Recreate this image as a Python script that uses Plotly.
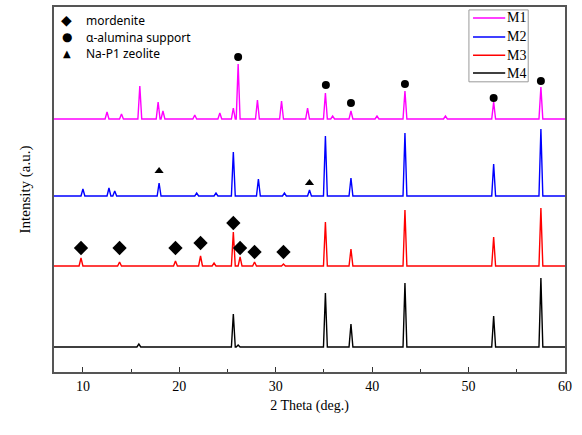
import plotly.graph_objects as go

# ---- data (2θ in degrees, intensity in arbitrary stacked units) ----
series_names = ["M1", "M2", "M3", "M4"]
series_colors = ["#FF00FF", "#0000FF", "#FF0000", "#000000"]
baselines = [253, 176, 106, 25]

m1_pos = [12.5, 14.0, 15.9, 17.8, 18.3, 21.6, 24.2, 25.6, 26.1, 28.1, 30.6, 33.3, 35.15, 35.9, 37.8, 40.5, 43.4, 47.6, 52.6, 57.5]
m1_hgt = [7, 5, 33, 17, 8, 4, 6, 11, 55, 19, 18, 11, 26, 3, 8, 3, 28, 3, 17, 32]

m2_pos = [10.0, 12.7, 13.3, 17.9, 21.8, 23.8, 25.6, 28.2, 30.9, 33.5, 35.15, 37.8, 43.4, 52.6, 57.5]
m2_hgt = [7, 8, 5, 13, 3, 3, 44, 17, 3, 6, 60, 18, 63, 32, 67]

m3_pos = [9.8, 13.8, 19.6, 22.2, 23.6, 25.6, 26.3, 27.8, 30.8, 35.15, 37.8, 43.4, 52.6, 57.5]
m3_hgt = [8, 4, 5, 10, 3, 34, 9, 4, 2, 44, 17, 56, 29, 58]

m4_pos = [15.8, 25.6, 26.1, 35.15, 37.8, 43.4, 52.6, 57.5]
m4_hgt = [3, 33, 2, 54, 23, 64, 31, 69]

# phase markers (2θ, stacked intensity)
alumina_x = [26.1, 35.2, 37.8, 43.4, 52.6, 57.5]
alumina_y = [315, 287, 269, 288, 274, 291]
napi_x = [17.9, 33.5]
napi_y = [201, 189]
mord_x = [9.8, 13.8, 19.6, 22.2, 25.6, 26.3, 27.8, 30.8]
mord_y = [124, 124, 124, 129, 149, 124, 120, 120]

phase_labels = ["mordenite", "α-alumina support", "Na-P1 zeolite"]
phase_glyphs = ["◆", "●", "▲"]

x_ticks = [10, 20, 30, 40, 50, 60]

peak_sets = [(m1_pos, m1_hgt), (m2_pos, m2_hgt), (m3_pos, m3_hgt), (m4_pos, m4_hgt)]
HW = 0.2  # half width of drawn peaks (deg)


def profile(pos, hgt, base):
    xs, ys = [7.0], [base]
    for p, h in sorted(zip(pos, hgt)):
        xs += [p - HW, p, p + HW]
        ys += [base, base + h, base]
    xs.append(60.0)
    ys.append(base)
    return xs, ys


fig = go.Figure()
for name, col, base, (pos, hgt) in zip(series_names, series_colors, baselines, peak_sets):
    xs, ys = profile(pos, hgt, base)
    fig.add_trace(go.Scatter(x=xs, y=ys, mode="lines", name=name, showlegend=False,
                             line=dict(color=col, width=1.4)))

fig.add_trace(go.Scatter(x=mord_x, y=mord_y, mode="markers", name="mordenite", showlegend=False,
                         marker=dict(symbol="diamond", size=11, color="black")))
fig.add_trace(go.Scatter(x=alumina_x, y=alumina_y, mode="markers", name="α-alumina support", showlegend=False,
                         marker=dict(symbol="circle", size=8, color="black")))
fig.add_trace(go.Scatter(x=napi_x, y=napi_y, mode="markers", name="Na-P1 zeolite", showlegend=False,
                         marker=dict(symbol="triangle-up", size=8, color="black")))

serif = "Liberation Serif, Times New Roman, serif"

# phase key (top-left)
glyph_sizes = [14, 12, 10]
key_y = [0.964, 0.917, 0.872]
for lab, g, gs, ky in zip(phase_labels, phase_glyphs, glyph_sizes, key_y):
    fig.add_annotation(x=0.025, y=ky, xref="paper", yref="paper", text=g, showarrow=False,
                       xanchor="center", yanchor="middle",
                       font=dict(family="DejaVu Sans", size=gs, color="black"))
    fig.add_annotation(x=0.061, y=ky, xref="paper", yref="paper", text=lab, showarrow=False,
                       xanchor="left", yanchor="middle", borderpad=0,
                       font=dict(family="Noto Sans, sans-serif", size=12, color="black"))

# series key (top-right box)
fig.add_shape(type="rect", xref="paper", yref="paper", x0=0.812, x1=0.928, y0=0.795, y1=0.992,
              line=dict(color="#999", width=1), fillcolor="white", layer="above")
leg_y = [0.970, 0.918, 0.868, 0.819]
for name, col, ly in zip(series_names, series_colors, leg_y):
    fig.add_shape(type="line", xref="paper", yref="paper", x0=0.820, x1=0.883, y0=ly, y1=ly,
                  line=dict(color=col, width=1.4), layer="above")
    fig.add_annotation(x=0.884, y=ly, xref="paper", yref="paper", text=name, showarrow=False,
                       xanchor="left", yanchor="middle", borderpad=0,
                       font=dict(family=serif, size=14, color="black"))

fig.update_layout(
    width=582, height=435,
    margin=dict(l=54, r=17, t=7, b=63),
    paper_bgcolor="white", plot_bgcolor="white", showlegend=False,
    font=dict(family=serif, size=14, color="black"),
    xaxis=dict(range=[7, 60], tickvals=x_ticks, ticks="inside", ticklen=5, tickwidth=1.2,
               tickcolor="#333", showgrid=False, zeroline=False, automargin=False,
               showline=True, linecolor="#555", linewidth=1.6, mirror=True,
               minor=dict(ticks="inside", ticklen=3, dtick=5, tick0=5, tickcolor="#333"),
               title=dict(text="2 Theta (deg.)", font=dict(family=serif, size=14), standoff=8),
               tickfont=dict(family=serif, size=14)),
    yaxis=dict(range=[0, 365], showticklabels=False, ticks="", showgrid=False, zeroline=False,
               automargin=False,
               showline=True, linecolor="#555", linewidth=1.6, mirror=True,
               title=dict(text="Intensity (a.u.)", font=dict(family=serif, size=15), standoff=18)),
)

fig.write_html("out.html", config={"displayModeBar": False},
               post_script="document.body.style.margin='0';")
